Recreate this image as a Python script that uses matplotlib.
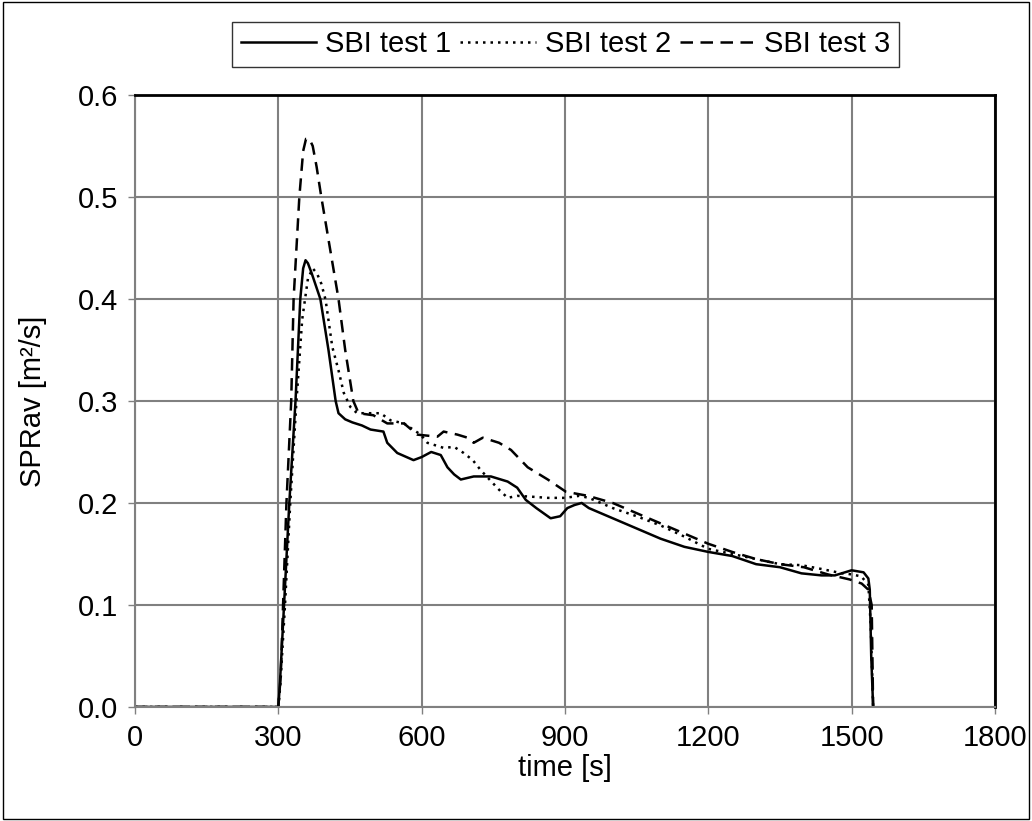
import matplotlib
matplotlib.use("Agg")
import matplotlib.pyplot as plt
from matplotlib.patches import Rectangle

plt.rcParams['font.family'] = ['Liberation Sans', 'DejaVu Sans']

t1 = [0, 300, 303, 312, 323, 336, 346, 352, 357, 362, 370, 388, 405, 420, 426, 440, 455, 475, 493, 520,
      528, 549, 583, 600, 620, 640, 654, 668, 682, 709, 745, 780, 800, 818, 840, 855, 870, 890, 905, 920,
      935, 950, 975, 1000, 1050, 1100, 1150, 1200, 1250, 1300, 1350, 1395, 1437, 1465, 1500, 1525, 1535,
      1538, 1541, 1545]
v1 = [0, 0, 0.02, 0.1, 0.2, 0.3, 0.4, 0.43, 0.438, 0.435, 0.425, 0.4, 0.35, 0.3, 0.288, 0.282, 0.279,
      0.276, 0.272, 0.27, 0.259, 0.249, 0.242, 0.245, 0.25, 0.247, 0.235, 0.228, 0.223, 0.226, 0.226,
      0.221, 0.215, 0.203, 0.195, 0.19, 0.185, 0.187, 0.195, 0.198, 0.2, 0.195, 0.19, 0.185, 0.175,
      0.165, 0.157, 0.152, 0.148, 0.14, 0.137, 0.131, 0.129, 0.129, 0.134, 0.132, 0.126, 0.115, 0.05, 0]

t2 = [0, 300, 304, 314, 325, 338, 350, 362, 372, 381, 390, 399, 413, 426, 437, 451, 465, 487, 514, 535,
      563, 598, 612, 646, 668, 688, 707, 724, 762, 780, 800, 835, 864, 900, 930, 950, 1000, 1050, 1100,
      1150, 1200, 1250, 1300, 1350, 1395, 1440, 1480, 1500, 1520, 1535, 1540, 1545]
v2 = [0, 0, 0.02, 0.1, 0.2, 0.3, 0.38, 0.42, 0.43, 0.425, 0.415, 0.399, 0.353, 0.33, 0.308, 0.294,
      0.288, 0.288, 0.288, 0.281, 0.278, 0.267, 0.259, 0.254, 0.255, 0.249, 0.242, 0.232, 0.213, 0.205,
      0.207, 0.206, 0.205, 0.205, 0.207, 0.205, 0.195, 0.187, 0.178, 0.167, 0.155, 0.15, 0.145, 0.14,
      0.139, 0.135, 0.131, 0.13, 0.128, 0.12, 0.08, 0]

t3 = [0, 300, 305, 317, 327, 332, 344, 352, 358, 365, 372, 380, 390, 408, 426, 440, 457, 468, 499, 528,
      563, 591, 633, 646, 675, 696, 709, 728, 762, 787, 822, 864, 902, 948, 1000, 1050, 1100, 1150,
      1200, 1250, 1300, 1350, 1400, 1450, 1496, 1521, 1535, 1542, 1545]
v3 = [0, 0, 0.03, 0.2, 0.3, 0.4, 0.5, 0.545, 0.557, 0.557, 0.55, 0.53, 0.5, 0.45, 0.4, 0.35, 0.3,
      0.288, 0.286, 0.278, 0.278, 0.267, 0.265, 0.27, 0.267, 0.264, 0.259, 0.264, 0.259, 0.252, 0.235,
      0.223, 0.211, 0.207, 0.2, 0.19, 0.18, 0.17, 0.16, 0.152, 0.145, 0.14, 0.137, 0.13, 0.125, 0.121,
      0.115, 0.1, 0]

labels = ["SBI test 1", "SBI test 2", "SBI test 3"]
xticks = [0, 300, 600, 900, 1200, 1500, 1800]
yticks = [0.0, 0.1, 0.2, 0.3, 0.4, 0.5, 0.6]

FS = 21

fig = plt.figure(figsize=(10.32, 8.21), dpi=100)
ax = fig.add_axes([0.1308, 0.1389, 0.8333, 0.7454])

ax.plot(t1, v1, color='black', lw=1.8, ls='-', label=labels[0])
ax.plot(t2, v2, color='black', lw=1.8, ls=(0, (1, 2)), label=labels[1])
ax.plot(t3, v3, color='black', lw=1.8, ls=(0, (5, 3)), label=labels[2])

ax.set_xlim(0, 1800)
ax.set_ylim(0, 0.6)
ax.set_xticks(xticks)
ax.set_yticks(yticks)
ax.set_yticklabels([f"{v:.1f}" for v in yticks])
ax.grid(True, color='#808080', lw=1.5)
ax.set_axisbelow(True)
ax.tick_params(labelsize=FS, length=5, width=1, color='#808080', direction='out', pad=7)
for s in ['top', 'right']:
    ax.spines[s].set_color('black')
    ax.spines[s].set_linewidth(2)
for s in ['left', 'bottom']:
    ax.spines[s].set_color('#808080')
    ax.spines[s].set_linewidth(1.5)

ax.set_xlabel("time [s]", fontsize=FS, labelpad=2)
ax.set_ylabel("SPRav [m²/s]", fontsize=FS, labelpad=22)

leg = fig.legend(loc='center', bbox_to_anchor=(0.548, 0.946), ncol=3, fontsize=FS,
                 frameon=True, fancybox=False, edgecolor='black', handlelength=2.6,
                 columnspacing=0.3, handletextpad=0.3, borderpad=0.3, borderaxespad=0)
leg.get_frame().set_linewidth(1)

fig.patches.append(Rectangle((0.003, 0.003), 0.994, 0.994, transform=fig.transFigure,
                             fill=False, edgecolor='black', lw=1))

fig.savefig("out.png", dpi=100)
